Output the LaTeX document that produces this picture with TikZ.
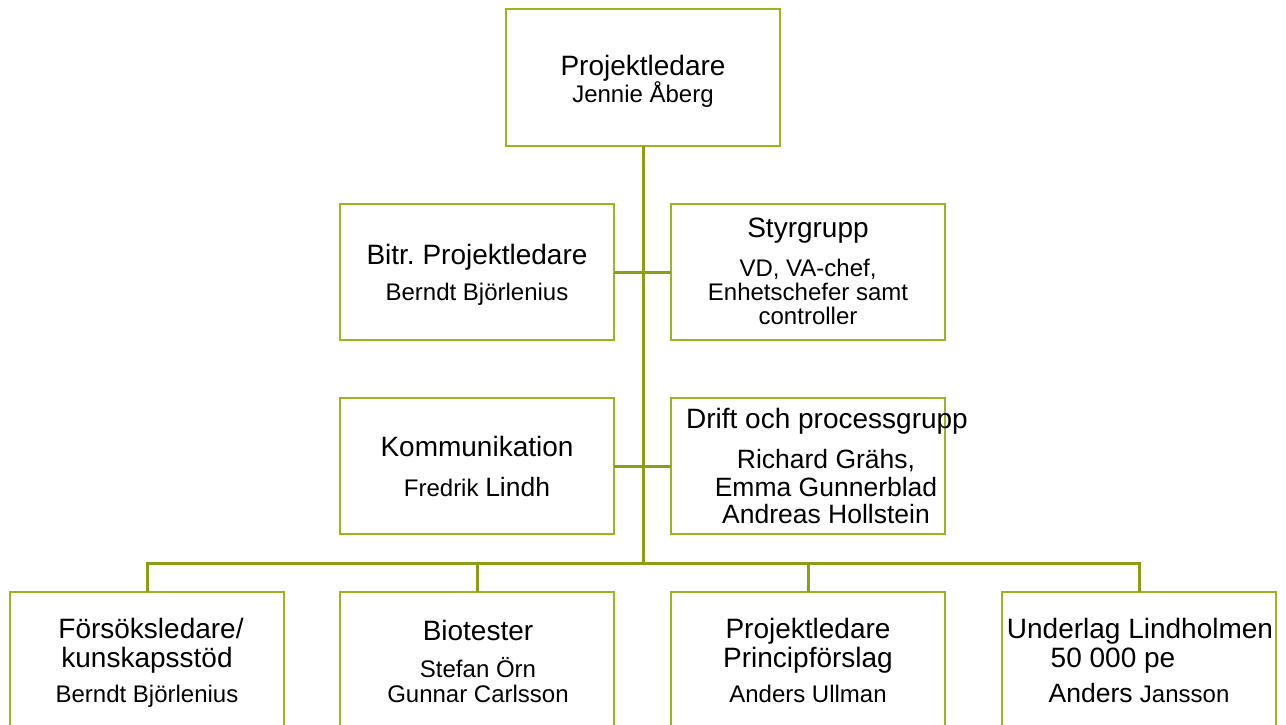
\documentclass[tikz,border=0pt]{standalone}
\usepackage{fontspec}
\setmainfont{Liberation Sans}
\definecolor{boxcol}{RGB}{160,178,30}
\definecolor{linecol}{RGB}{142,158,20}
\newcommand\fHead{\fontsize{28}{32}\selectfont}
\newcommand\fMid{\fontsize{26.5}{30}\selectfont}
\newcommand\fBody{\fontsize{24}{28}\selectfont}
\frenchspacing
\begin{document}
\begin{tikzpicture}[x=1pt,y=-1pt,
  box/.style={draw=boxcol,line width=2.7pt,fill=white,minimum width=274pt,minimum height=136pt,inner sep=0pt,outer sep=0pt},
  conn/.style={draw=linecol,line width=3pt},
  hd/.style={anchor=base,inner sep=0pt,font=\fHead},
  md/.style={anchor=base,inner sep=0pt,font=\fMid},
  bd/.style={anchor=base,inner sep=0pt,font=\fBody}]
\useasboundingbox (0,0) rectangle (1286,724);
\clip (0,0) rectangle (1286,724);
\fill[white] (0,0) rectangle (1286,724);
% connector coordinates
\coordinate (bus) at (643,563);
% boxes
\node[box,minimum height=137pt] (top) at (643,77.5) {};
\node[box] (bitr) at (477,272) {};
\node[box] (styr) at (808,272) {};
\node[box] (komm) at (477,466) {};
\node[box] (drift) at (808,466) {};
\node[box,minimum height=170pt] (fors) at (147,677) {};
\node[box,minimum height=170pt] (bio) at (477,677) {};
\node[box,minimum height=170pt] (prin) at (808,677) {};
\node[box,minimum height=170pt] (lind) at (1139,677) {};
% connectors
\draw[conn] (top.south) -- (bus);
\draw[conn] (bitr.east) -- (styr.west);
\draw[conn] (komm.east) -- (drift.west);
\draw[conn] (fors.north) |- (bus) -| (lind.north);
\draw[conn] (bio.north) -- (bio.north |- bus);
\draw[conn] (prin.north) -- (prin.north |- bus);
% texts
\node[hd] (t1) at (643,75) {Projektledare};
\node[bd] (t2) at (643,102) {Jennie Åberg};
\node[hd] (t3) at (477,264) {Bitr. Projektledare};
\node[bd] (t4) at (477,300) {Berndt Björlenius};
\node[hd] (t5) at (808,237) {Styrgrupp};
\node[bd] (t6) at (808,276) {VD, VA-chef,};
\node[bd] (t7) at (808,300) {Enhetschefer samt};
\node[bd] (t8) at (808,324) {controller};
\node[hd] (t9) at (477,456) {Kommunikation};
\node[bd] (t10) at (477,496) {Fredrik {\fMid Lindh}};
\node[hd] (t11) at (827,428) {Drift och processgrupp};
\node[md] (t12) at (826,468) {Richard Grähs,};
\node[md] (t13) at (826,496) {Emma Gunnerblad};
\node[md] (t14) at (826,523) {Andreas Hollstein};
\node[hd] (t15) at (151,638) {Försöksledare/};
\node[hd] (t16) at (147,667) {kunskapsstöd};
\node[bd] (t17) at (147,702) {Berndt Björlenius};
\node[hd] (t18) at (478,640) {Biotester};
\node[bd] (t19) at (478,677) {Stefan Örn};
\node[bd] (t20) at (478,702) {Gunnar Carlsson};
\node[hd] (t21) at (808,638) {Projektledare};
\node[hd] (t22) at (808,667) {Principförslag};
\node[bd] (t23) at (808,702) {Anders Ullman};
\node[hd] (t24) at (1140,638) {Underlag Lindholmen};
\node[hd] (t25) at (1113,667) {50 000 pe};
\node[md] (t26) at (1139,702) {Anders {\fBody Jansson}};
\end{tikzpicture}
\end{document}
